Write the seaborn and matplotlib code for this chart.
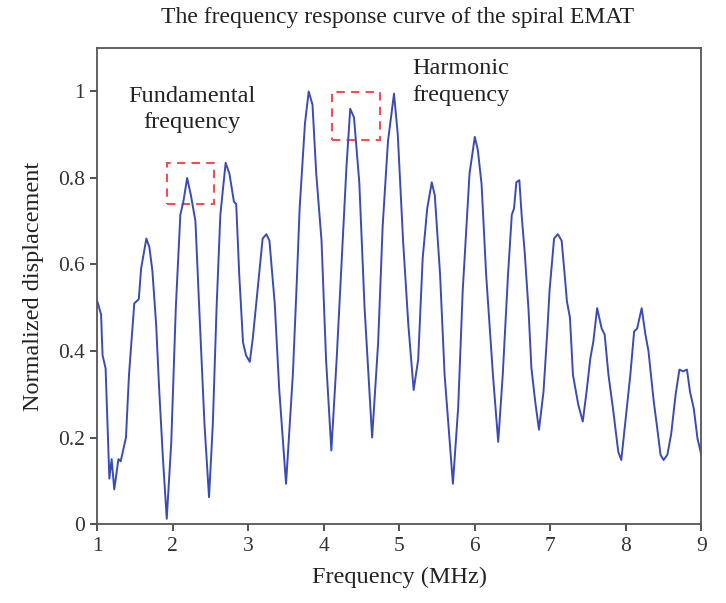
import matplotlib
matplotlib.use("Agg")
import matplotlib.pyplot as plt
import seaborn as sns
import pandas as pd
from matplotlib.patches import Rectangle

# Measured frequency response of the spiral EMAT
freq_mhz = [
    1.00, 1.05, 1.07, 1.11, 1.16, 1.19, 1.225, 1.28, 1.31, 1.38, 1.42, 1.49, 1.55, 1.58,
    1.65, 1.69, 1.73, 1.78, 1.82, 1.87, 1.92, 1.98, 2.04, 2.10, 2.14, 2.19, 2.24, 2.30,
    2.35, 2.42, 2.48, 2.53, 2.58, 2.63, 2.70, 2.75, 2.81, 2.84, 2.88, 2.93, 2.97, 3.02,
    3.06, 3.10, 3.15, 3.19, 3.24, 3.28, 3.35, 3.41, 3.50, 3.59, 3.64, 3.68, 3.75, 3.80,
    3.85, 3.90, 3.97, 4.03, 4.10, 4.17, 4.25, 4.30, 4.35, 4.40, 4.47, 4.54, 4.64, 4.72,
    4.78, 4.85, 4.93, 4.98, 5.05, 5.12, 5.19, 5.25, 5.31, 5.37, 5.43, 5.47, 5.54, 5.60,
    5.71, 5.78, 5.84, 5.93, 6.00, 6.04, 6.09, 6.15, 6.24, 6.31, 6.37, 6.44, 6.49, 6.52,
    6.55, 6.59, 6.62, 6.66, 6.71, 6.75, 6.80, 6.85, 6.91, 6.96, 6.99, 7.05, 7.10, 7.15,
    7.19, 7.22, 7.26, 7.30, 7.37, 7.43, 7.48, 7.53, 7.57, 7.62, 7.68, 7.72, 7.77, 7.83,
    7.90, 7.94, 7.99, 8.06, 8.11, 8.15, 8.21, 8.26, 8.30, 8.37, 8.41, 8.46, 8.50, 8.55,
    8.60, 8.66, 8.71, 8.76, 8.81, 8.85, 8.90, 8.95, 9.00,
]
displacement = [
    0.515, 0.485, 0.39, 0.36, 0.105, 0.15, 0.08, 0.15, 0.145, 0.20, 0.345, 0.51, 0.52, 0.59,
    0.66, 0.64, 0.585, 0.46, 0.31, 0.15, 0.012, 0.19, 0.50, 0.715, 0.745, 0.80, 0.76, 0.70,
    0.50, 0.23, 0.062, 0.23, 0.50, 0.715, 0.835, 0.81, 0.745, 0.74, 0.577, 0.42, 0.39, 0.375,
    0.43, 0.50, 0.59, 0.66, 0.67, 0.655, 0.51, 0.31, 0.093, 0.345, 0.55, 0.73, 0.925, 1.0,
    0.97, 0.81, 0.655, 0.38, 0.17, 0.38, 0.655, 0.825, 0.96, 0.94, 0.79, 0.50, 0.20, 0.42,
    0.69, 0.885, 0.995, 0.90, 0.655, 0.46, 0.31, 0.38, 0.615, 0.73, 0.79, 0.76, 0.577, 0.345,
    0.093, 0.27, 0.54, 0.81, 0.895, 0.865, 0.785, 0.577, 0.345, 0.19, 0.345, 0.577, 0.715, 0.73,
    0.79, 0.795, 0.715, 0.63, 0.50, 0.36, 0.283, 0.218, 0.306, 0.445, 0.54, 0.66, 0.67, 0.655,
    0.577, 0.515, 0.477, 0.345, 0.276, 0.237, 0.306, 0.383, 0.422, 0.499, 0.452, 0.438, 0.345, 0.267,
    0.167, 0.148, 0.23, 0.345, 0.445, 0.452, 0.499, 0.438, 0.40, 0.283, 0.23, 0.16, 0.148, 0.16,
    0.207, 0.30, 0.357, 0.353, 0.357, 0.306, 0.267, 0.197, 0.16,
]

x_ticks = [1, 2, 3, 4, 5, 6, 7, 8, 9]
y_ticks = [0, 0.2, 0.4, 0.6, 0.8, 1.0]
y_tick_labels = ["0", "0.2", "0.4", "0.6", "0.8", "1"]

# Highlighted peaks: (x0, x1, y0, y1)
fundamental_box = (1.92, 2.54, 0.74, 0.834)
harmonic_box = (4.11, 4.74, 0.889, 0.999)

sns.set_theme(style="white")
plt.rcParams["font.family"] = ["Liberation Serif", "DejaVu Serif"]

df = pd.DataFrame({"Frequency (MHz)": freq_mhz, "Normalized displacement": displacement})

fig = plt.figure(figsize=(7.26, 6.03), dpi=100)
ax = fig.add_axes([0.134, 0.131, 0.832, 0.789])

sns.lineplot(data=df, x="Frequency (MHz)", y="Normalized displacement",
             ax=ax, color="#3a4cb4", linewidth=1.4, estimator=None, sort=False)

for x0, x1, y0, y1 in (fundamental_box, harmonic_box):
    ax.add_patch(Rectangle((x0, y0), x1 - x0, y1 - y0, fill=False,
                           edgecolor="#f05050", linestyle=(0, (4, 3)), linewidth=1.5))

ax.text(2.25, 0.958, "Fundamental\nfrequency", ha="center", va="center",
        fontsize=17.5, color="#222222", linespacing=1.35)
ax.text(5.82, 1.022, "Harmonic\nfrequency", ha="center", va="center",
        fontsize=17.5, color="#222222", linespacing=1.35)

ax.set_xlim(1, 9)
ax.set_ylim(0, 1.1)
ax.set_xticks(x_ticks)
ax.set_yticks(y_ticks)
ax.set_yticklabels(y_tick_labels)
ax.tick_params(direction="out", length=5, width=1.2, colors="#333333",
               labelsize=15.5, left=True, bottom=True, pad=4)
for s in ax.spines.values():
    s.set_color("#555555")
    s.set_linewidth(1.3)

ax.set_xlabel("Frequency (MHz)", fontsize=17.5, color="#222222", labelpad=8)
ax.set_ylabel("Normalized displacement", fontsize=17.5, color="#222222", labelpad=10)
fig.suptitle("The frequency response curve of the spiral EMAT", x=0.547, y=0.988,
             fontsize=17, color="#222222")

fig.savefig("out.png", dpi=100)
